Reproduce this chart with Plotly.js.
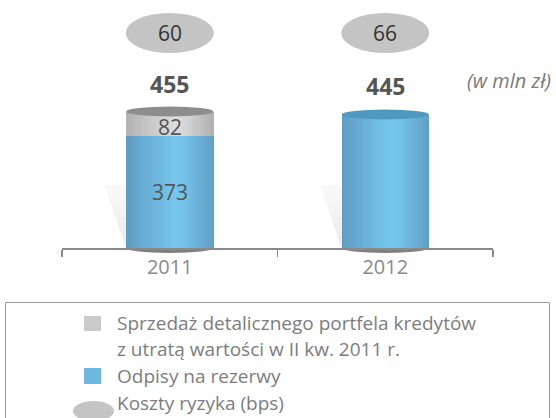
<!DOCTYPE html>
<html><head><meta charset="utf-8">
<script src="https://cdn.plot.ly/plotly-3.0.1.min.js"></script>
<style>html,body{margin:0;padding:0;background:#fff}#chart{width:556px;height:418px}</style>
</head><body><div id="chart"></div>
<script>
// ---- data ----
const years = ['2011', '2012'];
const impairedSale = [82, 0];      // Sprzedaż detalicznego portfela kredytów z utratą wartości
const provisions = [373, 445];     // Odpisy na rezerwy
const totals = [455, 445];
const riskCost = [60, 66];         // Koszty ryzyka (bps)
const legendLabels = ['Sprzedaż detalicznego portfela kredytów', 'z utratą wartości w II kw. 2011 r.', 'Odpisy na rezerwy', 'Koszty ryzyka (bps)'];
const unitLabel = '(w mln zł)';

// ---- layout geometry ----
const W = 556, H = 418, L = 62, R = 63, T = 0, B = 170;
const PW = W - L - R, PH = H - T - B;
const yMax = PH / 0.3;
const barW = 0.405;
const nStrips = 32;
const FONT = 'Open Sans, sans-serif';
const px = x => (x - L) / PW;
const py = y => (T + PH - y) / PH;
const catPix = i => L + PW * (i + 0.5) / years.length;
const unitsPerPx = yMax / PH;
const valPix = v => T + PH - v / unitsPerPx;   // same linear map as the y axis

function hex(c){return [parseInt(c.substr(1,2),16),parseInt(c.substr(3,2),16),parseInt(c.substr(5,2),16)];}
function grad(stops, t){
  for (let k = 0; k < stops.length - 1; k++) {
    const [t0,c0] = stops[k], [t1,c1] = stops[k+1];
    if (t >= t0 && t <= t1) {
      const f = (t - t0) / (t1 - t0 || 1), a = hex(c0), b = hex(c1);
      return 'rgb(' + a.map((v,j)=>Math.round(v + (b[j]-v)*f)).join(',') + ')';
    }
  }
  return stops[stops.length-1][1];
}
const blueStops = [[0,'#5f9cc2'],[0.55,'#76c6ee'],[0.65,'#74c3eb'],[1,'#609fc4']];
const grayStops = [[0,'#b2b2b2'],[0.55,'#dddddd'],[0.65,'#d9d9d9'],[1,'#afafaf']];

const traces = [];
for (let s = 0; s < nStrips; s++) {
  const t = (s + 0.5) / nStrips;
  const off = -barW/2 + s * barW / nStrips;
  const w = barW / nStrips * 1.15;
  traces.push({type:'bar', x: years, y: provisions, base: years.map(()=>0), offset: off, width: w,
    marker:{color: grad(blueStops, t), line:{width:0}}, hoverinfo:'skip', showlegend:false});
  traces.push({type:'bar', x: years, y: impairedSale, base: provisions, offset: off, width: w,
    marker:{color: grad(grayStops, t), line:{width:0}}, hoverinfo:'skip', showlegend:false});
}

const shapes = [];
const annotations = [];
years.forEach((yr, i) => {
  const cx = catPix(i);
  const halfPx = barW / 2 * PW / years.length;
  const leftPx = cx - halfPx;
  // shadow wedge (fading upward)
  const topY = T + PH - 63, botY = T + PH;
  const nb = 10;
  for (let k = 0; k < nb; k++) {
    const y0 = botY - (botY - topY) * k / nb, y1 = botY - (botY - topY) * (k+1) / nb;
    const xl = y => leftPx - 22 * (botY - y) / (botY - topY);
    const alpha = 0.05 + 0.14 * (1 - k / nb);
    shapes.push({type:'path', xref:'paper', yref:'paper', layer:'below', line:{width:0},
      fillcolor:'rgba(150,150,150,' + alpha.toFixed(3) + ')',
      path:`M${px(xl(y0))},${py(y0)} L${px(xl(y1))},${py(y1)} L${px(leftPx+1)},${py(y1)} L${px(leftPx+1)},${py(y0)} Z`});
  }
  // bottom ellipse of cylinder
  shapes.push({type:'circle', xref:'paper', yref:'paper', layer:'below', line:{width:0}, fillcolor:'#7e7e7e',
    x0: px(leftPx), x1: px(cx + halfPx), y0: py(T + PH + 5), y1: py(T + PH - 5)});
  // top ellipse of cylinder
  const topColor = impairedSale[i] > 0 ? '#8d8d8d' : '#4f98bf';
  shapes.push({type:'circle', xref:'x', yref:'y', layer:'above', line:{width:0}, fillcolor: topColor,
    x0: i - barW/2, x1: i + barW/2, y0: totals[i] - 5*unitsPerPx, y1: totals[i] + 5*unitsPerPx});
  // risk cost ellipse
  shapes.push({type:'circle', xref:'paper', yref:'paper', layer:'above', line:{width:0}, fillcolor:'#c4c4c4',
    x0: px(cx - 44), x1: px(cx + 44), y0: py(53), y1: py(13)});
  annotations.push({xref:'paper', yref:'paper', x: px(cx), y: py(33), text: String(riskCost[i]), showarrow:false,
    font:{family:FONT, size:21, color:'#333333'}, xanchor:'center', yanchor:'middle'});
  // totals
  annotations.push({xref:'paper', yref:'paper', x: px(cx), y: py(valPix(totals[i]) - 28), text: '<b>' + totals[i] + '</b>', showarrow:false,
    font:{family:FONT, size:23, color:'#555555'}, xanchor:'center', yanchor:'middle'});
  // segment labels
  if (impairedSale[i] > 0) {
    annotations.push({xref:'paper', yref:'paper', x: px(cx), y: py(valPix(provisions[i] + impairedSale[i]/2) + 3), text: String(impairedSale[i]), showarrow:false,
      font:{family:FONT, size:21, color:'#555555'}, xanchor:'center', yanchor:'middle'});
    annotations.push({xref:'paper', yref:'paper', x: px(cx), y: py(valPix(provisions[i]/2)), text: String(provisions[i]), showarrow:false,
      font:{family:FONT, size:21, color:'#555555'}, xanchor:'center', yanchor:'middle'});
  }
});

// unit label
annotations.push({xref:'paper', yref:'paper', x: px(509), y: py(80), text:'<i>' + unitLabel + '</i>', showarrow:false,
  font:{family:FONT, size:20, color:'#7a7a7a'}, xanchor:'center', yanchor:'middle'});

// legend box
shapes.push({type:'rect', xref:'paper', yref:'paper', layer:'above', line:{width:1, color:'#9a9a9a'}, fillcolor:'rgba(0,0,0,0)',
  x0: px(5.5), x1: px(549.5), y0: py(430), y1: py(302.5)});
// legend symbols
shapes.push({type:'rect', xref:'paper', yref:'paper', line:{width:0}, fillcolor:'#cbcbcb', x0: px(84), x1: px(101), y0: py(331), y1: py(316)});
shapes.push({type:'rect', xref:'paper', yref:'paper', line:{width:0}, fillcolor:'#6db8e0', x0: px(84), x1: px(101), y0: py(384), y1: py(368)});
shapes.push({type:'circle', xref:'paper', yref:'paper', line:{width:0}, fillcolor:'#c4c4c4', x0: px(73), x1: px(114), y0: py(421), y1: py(401)});
const legY = [323, 349, 376, 403];
legendLabels.forEach((t, k) => {
  annotations.push({xref:'paper', yref:'paper', x: px(115), y: py(legY[k]), text: t, showarrow:false,
    font:{family:FONT, size:19, color:'#7d7d7d'}, xanchor:'left', yanchor:'middle'});
});

const layout = {
  width: W, height: H, margin:{l:L, r:R, t:T, b:B},
  paper_bgcolor:'#ffffff', plot_bgcolor:'rgba(0,0,0,0)',
  barmode:'overlay', showlegend:false, bargap:0,
  xaxis:{type:'category', range:[-0.5, years.length - 0.5], showgrid:false, zeroline:false,
    showline:true, linecolor:'#8a8a8a', linewidth:1.5, ticks:'outside', tickson:'boundaries', ticklen:7, tickcolor:'#8a8a8a', tickwidth:1.5,
    tickfont:{family:FONT, size:20, color:'#8a8a8a'}, fixedrange:true},
  yaxis:{range:[0, yMax], visible:false, fixedrange:true},
  shapes: shapes, annotations: annotations,
  font:{family:FONT}
};
Plotly.newPlot('chart', traces, layout, {displayModeBar:false, staticPlot:true});
</script></body></html>
